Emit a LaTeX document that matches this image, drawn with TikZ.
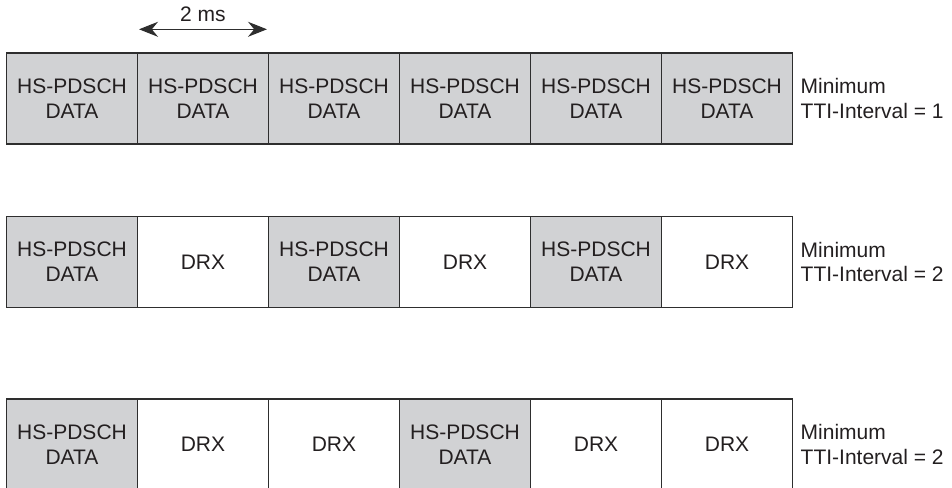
\documentclass[tikz,border=0pt]{standalone}
\usepackage{fontspec}
\setmainfont{Liberation Sans}
\usetikzlibrary{arrows.meta, positioning}
\definecolor{slotgray}{HTML}{D1D2D4}
\definecolor{slotline}{HTML}{2E2E2E}
\definecolor{labeltext}{HTML}{231F20}
\tikzset{
    tti slot/.style={
        draw=slotline,
        line width=1.1pt,
        minimum width=131pt,
        minimum height=91pt,
        inner sep=0pt,
        outer sep=0pt,
        align=center,
        text=labeltext,
        font=\fontsize{21}{24.7}\selectfont
    },
    data slot/.style={
        tti slot,
        fill=slotgray,
        node contents={HS-PDSCH\\DATA}
    },
    drx slot/.style={
        tti slot,
        fill=white,
        node contents={DRX}
    },
    tti label/.style={
        anchor=west,
        align=left,
        inner sep=0pt,
        text=labeltext,
        font=\fontsize{21}{24.7}\selectfont
    },
    ms arrow/.style={
        {Stealth[length=19pt, width=15pt]}-{Stealth[length=19pt, width=15pt]},
        line width=1.4pt,
        slotline
    }
}

\begin{document}
\begin{tikzpicture}[x=1pt, y=-1pt]
    \useasboundingbox (0,0) rectangle (952,487);

    % Slot rows, one per minimum TTI interval
    \foreach \row/\ypos/\slots/\gap in {1/98.5/{data,data,data,data,data,data}/1,
                                        2/262/{data,drx,data,drx,data,drx}/2,
                                        3/444.5/{data,drx,drx,data,drx,drx}/2}{
        \foreach \kind [count=\i] in \slots
            \node (r\row s\i) at ({72+131*(\i-1)}, \ypos) [\kind\space slot];
        \node[tti label, right=8pt of r\row s6] (tti\row) {Minimum\\TTI-Interval = \gap};
    }

    % Slot length
    \coordinate[above=23.7pt of r1s2.north west, xshift=1.5pt] (ms-l);
    \coordinate[above=23.7pt of r1s2.north east, xshift=-1.5pt] (ms-r);
    \draw[ms arrow] (ms-l) -- (ms-r)
        node[midway, above=6.5pt, inner sep=0pt, text=labeltext, font=\fontsize{21}{24.7}\selectfont] (ms) {2 ms};
\end{tikzpicture}
\end{document}
